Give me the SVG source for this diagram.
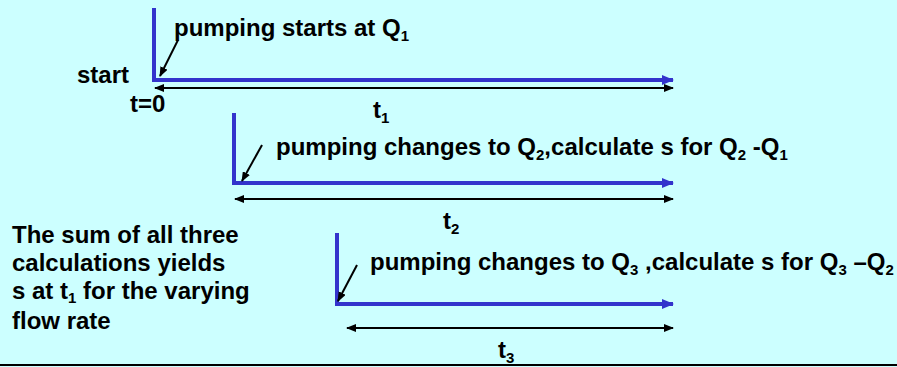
<svg xmlns="http://www.w3.org/2000/svg" width="897" height="367" viewBox="0 0 897 367">
<defs>
<marker id="blueHead" markerWidth="12" markerHeight="10" refX="11" refY="5" orient="auto" markerUnits="userSpaceOnUse">
<path d="M0,0 L12,5 L0,10 Z" fill="#3333CC"/>
</marker>
<marker id="blackEnd" markerWidth="10" markerHeight="8" refX="9" refY="4" orient="auto" markerUnits="userSpaceOnUse">
<path d="M0,0 L10,4 L0,8 Z" fill="#000"/>
</marker>
<marker id="blackStart" markerWidth="10" markerHeight="8" refX="1" refY="4" orient="auto" markerUnits="userSpaceOnUse">
<path d="M10,0 L0,4 L10,8 Z" fill="#000"/>
</marker>
<style>
.t{font-family:"Liberation Sans",Arial,sans-serif;font-weight:bold;font-size:24px;fill:#000}
.axis{fill:none;stroke:#3333CC;stroke-width:4;marker-end:url(#blueHead)}
.span{stroke:#000;stroke-width:2;marker-start:url(#blackStart);marker-end:url(#blackEnd)}
.ptr{stroke:#000;stroke-width:2;marker-end:url(#blackEnd)}
</style>
</defs>
<rect x="0" y="0" width="897" height="367" fill="#CCFFFF"/>
<line x1="0" y1="365" x2="897" y2="365" stroke="#000" stroke-width="2"/>

<g id="connectors">
<polyline class="axis" points="154,8 154,80 673,80"/>
<line class="span" x1="155" y1="88" x2="673" y2="88"/>
<line class="ptr" x1="178" y1="40" x2="160" y2="76"/>

<polyline class="axis" points="234,113 234,183 673,183"/>
<line class="span" x1="235" y1="199" x2="673" y2="199"/>
<line class="ptr" x1="262" y1="145" x2="242" y2="181"/>

<polyline class="axis" points="337,233 337,304 673,304"/>
<line class="span" x1="347" y1="328" x2="673" y2="328"/>
<line class="ptr" x1="357" y1="265" x2="338" y2="301"/>
</g>

<g id="step1">
<text class="t" x="174" y="36">pumping starts at Q<tspan font-size="15" dy="5">1</tspan></text>
<text class="t" x="77" y="83">start</text>
<text class="t" x="130" y="112">t=0</text>
<text class="t" x="373" y="118">t<tspan font-size="15" dy="5">1</tspan></text>
</g>

<g id="step2">
<text class="t" x="276" y="155">pumping changes to Q<tspan font-size="15" dy="5">2</tspan><tspan dy="-5">,calculate s for Q</tspan><tspan font-size="15" dy="5">2</tspan><tspan dy="-5"> -Q</tspan><tspan font-size="15" dy="5">1</tspan></text>
<text class="t" x="443" y="229">t<tspan font-size="15" dy="5">2</tspan></text>
</g>

<g id="step3">
<text class="t" x="370" y="270">pumping changes to Q<tspan font-size="15" dy="5">3</tspan><tspan dy="-5"> ,calculate s for Q</tspan><tspan font-size="15" dy="5">3</tspan><tspan dy="-5"> –Q</tspan><tspan font-size="15" dy="5">2</tspan></text>
<text class="t" x="498" y="358">t<tspan font-size="15" dy="5">3</tspan></text>
</g>

<g id="summary">
<text class="t" x="12" y="243">The sum of all three</text>
<text class="t" x="12" y="271">calculations yields</text>
<text class="t" x="12" y="299">s at t<tspan font-size="15" dy="4">1</tspan><tspan dy="-4"> for the varying</tspan></text>
<text class="t" x="12" y="329">flow rate</text>
</g>
</svg>
